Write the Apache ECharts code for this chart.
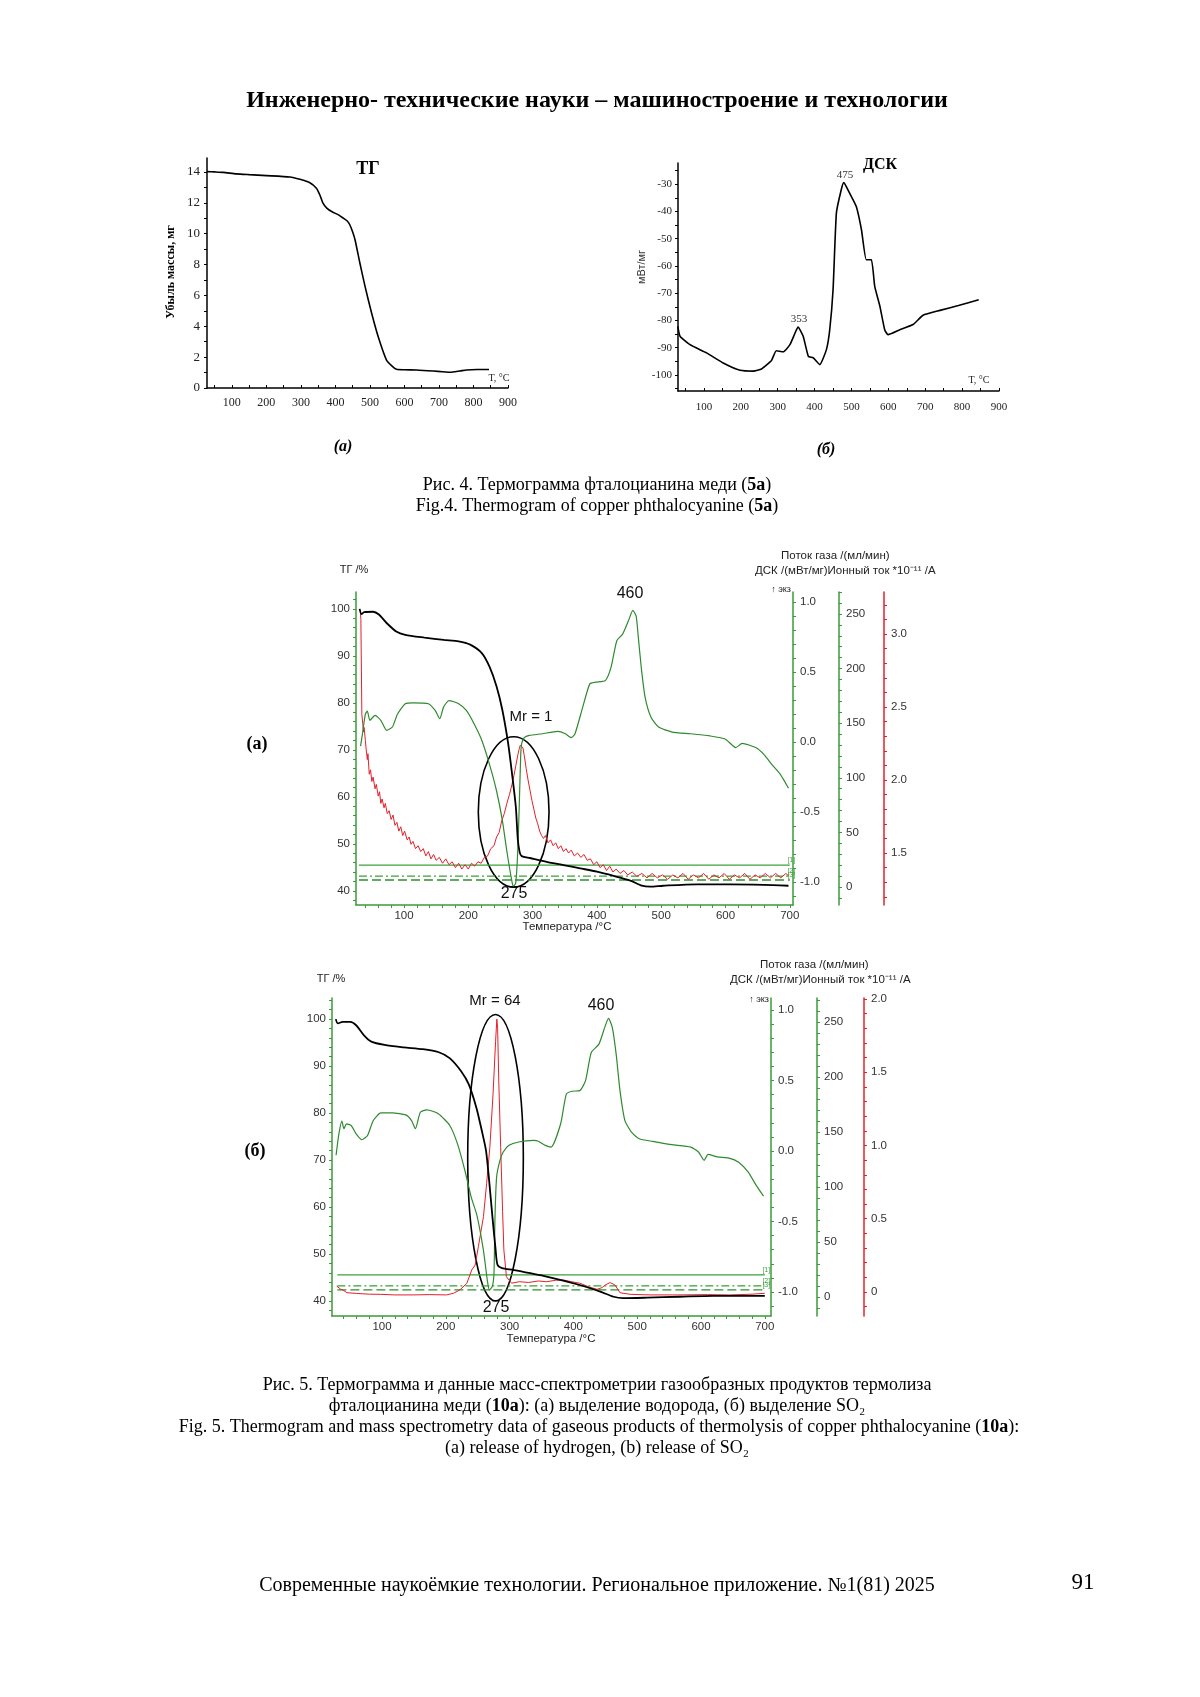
<!DOCTYPE html>
<html><head><meta charset="utf-8">
<script src="https://cdn.jsdelivr.net/npm/echarts@6/dist/echarts.min.js"></script>
<style>html,body{margin:0;padding:0;background:#fff}#c{width:1200px;height:1697px}</style>
</head><body><div id="c"></div>
<script>
// ---------- DATA ----------
// Fig.4 (a) TG: [T, mass loss mg]
const fig4TG = [[28,14.02],[50,14.0],[75,13.97],[113,13.87],[150,13.82],[200,13.76],[268,13.67],[297,13.52],[326,13.3],[345,12.94],[355,12.5],[364,11.97],[375,11.65],[389,11.43],[410,11.2],[423,11.0],[435,10.8],[442,10.56],[450,10.1],[457,9.59],[471,8.08],[486,6.57],[505,4.84],[524,3.32],[548,1.81],[565,1.4],[577,1.21],[600,1.18],[635,1.17],[684,1.1],[710,1.05],[732,1.02],[760,1.1],[780,1.17],[810,1.2],[845,1.2]];
// Fig.4 (б) DSC: [T, value]
const fig4DSC = [[29,-82.2],[35,-85.8],[62,-88.9],[107,-91.9],[152,-95.6],[198,-98.3],[234,-98.6],[256,-97.8],[283,-94.7],[296,-91.1],[315,-91.5],[333,-88.9],[347,-84.6],[355,-82.4],[369,-85.8],[383,-93.2],[396,-93.7],[414,-96.2],[432,-90.7],[441,-83.4],[450,-68.7],[459,-40.6],[472,-32.1],[479,-29.4],[495,-33.3],[513,-38.2],[527,-46.7],[540,-57.7],[554,-57.7],[563,-67.5],[577,-74.8],[590,-83.4],[599,-85.2],[631,-83.4],[667,-81.5],[694,-78.1],[740,-76.3],[790,-74.5],[845,-72.4]];

// Fig.5 (а)
const aTG = [[31,100.0],[34,98.9],[38,99.3],[52,99.4],[61,98.8],[73,97.0],[88,95.2],[102,94.5],[132,93.9],[162,93.4],[185,93.1],[203,92.4],[221,90.6],[233,87.7],[244,83.5],[253,78.5],[262,71.4],[268,65],[274,57.8],[277,51],[280,48.2],[283,47.4],[296,47.0],[322,46.2],[348,45.5],[374,44.8],[400,44.1],[426,43.2],[452,42.2],[470,41.1],[483,40.9],[503,41.1],[555,41.4],[607,41.4],[659,41.3],[698,41.1]];
const aDSC = [[32.5,-0.03],[35.5,0.06],[40,0.2],[43,0.22],[47,0.155],[55,0.19],[64,0.155],[73,0.083],[82,0.107],[90,0.2],[102,0.273],[114,0.28],[138,0.273],[148.5,0.225],[155.6,0.166],[161.6,0.249],[170,0.296],[185,0.273],[197,0.225],[209,0.13],[221,0.012],[233,-0.16],[244,-0.35],[253,-0.56],[260,-0.78],[267.5,-0.986],[270,-1.03],[273.7,-1.01],[276.8,-0.795],[279.4,-0.438],[281.5,-0.1],[283,-0.012],[287,0.031],[295,0.047],[315,0.059],[339,0.076],[351,0.059],[360,0.031],[366,0.059],[378,0.249],[389,0.415],[398,0.427],[413,0.438],[422,0.533],[431,0.723],[440,0.77],[449,0.865],[456,0.94],[461,0.9],[464,0.77],[469,0.533],[475,0.32],[484,0.178],[496,0.107],[517,0.071],[546,0.059],[576,0.043],[600,0.02],[616,-0.04],[626,-0.01],[647,-0.04],[660,-0.09],[672,-0.16],[685,-0.23],[698,-0.33]];
const aIon = [[32,3.16],[33,3.1],[34.5,2.45],[36,2.38],[37,2.33],[38,2.36],[40,2.27],[41,2.22],[43,2.14],[44,2.18],[46,2.04],[48,2.07],[50,1.99],[52,2.02],[55,1.94],[57,1.97],[60,1.89],[62,1.92],[64,1.84],[66,1.87],[69,1.81],[71,1.84],[74,1.77],[77,1.79],[80,1.73],[83,1.76],[86,1.69],[89,1.71],[92,1.65],[95,1.68],[98,1.62],[101,1.65],[105,1.59],[108,1.61],[111,1.56],[114,1.58],[118,1.53],[122,1.55],[126,1.51],[130,1.53],[134,1.48],[138,1.51],[142,1.46],[146,1.49],[150,1.45],[155,1.47],[160,1.43],[165,1.46],[170,1.42],[175,1.44],[180,1.4],[185,1.43],[190,1.39],[195,1.42],[200,1.39],[205,1.43],[210,1.41],[215,1.44],[220,1.43],[225,1.47],[230,1.48],[235,1.53],[240,1.55],[244,1.61],[248,1.64],[252,1.72],[256,1.77],[260,1.84],[264,1.9],[268,1.97],[271,2.03],[274,2.1],[277,2.17],[279,2.21],[281,2.24],[283,2.25],[285,2.22],[287,2.17],[290,2.08],[293,2.0],[296,1.93],[299,1.86],[302,1.8],[305,1.74],[308,1.7],[311,1.65],[314,1.62],[317,1.6],[320,1.62],[324,1.57],[328,1.59],[332,1.55],[336,1.57],[340,1.53],[344,1.55],[348,1.51],[352,1.53],[356,1.5],[360,1.52],[365,1.48],[370,1.5],[375,1.47],[380,1.49],[385,1.45],[390,1.46],[395,1.42],[400,1.44],[405,1.4],[410,1.42],[415,1.38],[420,1.41],[425,1.37],[430,1.39],[436,1.36],[442,1.38],[448,1.35],[455,1.37],[462,1.34],[470,1.36],[478,1.33],[486,1.36],[494,1.33],[502,1.35],[510,1.32],[518,1.35],[526,1.33],[534,1.36],[542,1.32],[550,1.35],[558,1.33],[566,1.36],[574,1.32],[582,1.35],[590,1.33],[598,1.36],[606,1.32],[614,1.35],[622,1.33],[630,1.36],[638,1.32],[646,1.35],[654,1.33],[662,1.36],[670,1.33],[678,1.36],[686,1.33],[694,1.36],[699,1.34]];

// Fig.5 (б)
const bTG = [[27.6,100],[30.6,99.1],[38.4,99.4],[50.4,99.4],[59.4,98.7],[71.4,96.6],[83.3,95.2],[104,94.5],[134,94.0],[164,93.6],[188,93.0],[206,91.7],[224,88.9],[236,86.1],[248,81.1],[256,76.5],[263,72],[268,65.5],[273,58],[278,51],[281,47.7],[288,47.0],[306,46.6],[358,45.2],[410,43.4],[442,42.0],[463,40.9],[478,40.6],[515,40.7],[567,40.9],[619,41.1],[700,41.1]];
const bDSC = [[28,-0.03],[32.4,0.122],[37.2,0.212],[40.2,0.158],[44.4,0.193],[51.6,0.181],[59.4,0.122],[68.4,0.08],[77.3,0.11],[86.3,0.216],[98.3,0.27],[116.3,0.27],[137.3,0.256],[146.3,0.216],[152.3,0.158],[160.1,0.275],[170.3,0.292],[188.2,0.264],[206.2,0.181],[218.2,0.052],[230,-0.14],[240,-0.33],[248.4,-0.45],[258.8,-0.70],[265,-0.915],[268.2,-0.986],[272.9,-0.96],[275.5,-0.867],[277.1,-0.466],[279.7,-0.18],[285,-0.064],[290,-0.007],[299,0.04],[314,0.064],[338,0.075],[344,0.071],[356,0.04],[365,0.028],[380,0.193],[389,0.405],[398,0.424],[410,0.428],[419,0.499],[428,0.699],[440,0.758],[449,0.875],[455,0.941],[461,0.875],[467,0.687],[473,0.428],[480.7,0.216],[491,0.134],[503,0.087],[524,0.068],[554,0.045],[584,0.028],[596,-0.007],[605,-0.066],[611,-0.024],[626,-0.042],[644,-0.05],[659,-0.08],[674,-0.15],[686,-0.24],[698,-0.32]];
const bIon = [[29,0.04],[35,0.02],[40,0.01],[45,-0.005],[60,-0.01],[80,-0.015],[97,-0.016],[120,-0.02],[149,-0.02],[175,-0.018],[201,-0.02],[212,-0.009],[222,0.014],[233,0.059],[240.6,0.15],[246,0.184],[251,0.309],[259,0.514],[264,0.742],[269,0.987],[274,1.348],[278,1.71],[280,1.863],[281.2,1.8],[283,1.44],[286,0.987],[289,0.55],[291,0.287],[295,0.104],[303,0.06],[315,0.07],[330,0.065],[345,0.075],[358,0.07],[372,0.08],[384,0.082],[397,0.07],[410,0.06],[424,0.035],[437,0.018],[445,0.03],[450,0.048],[457.5,0.064],[465,0.048],[473,-0.005],[489,-0.016],[520,-0.02],[567,-0.02],[610,-0.018],[645,-0.02],[680,-0.015],[700,-0.009]];

// gas-flow lines [1], [2], [3] (мл/мин)
const gasFlow = [20, 10, 6.4];
const gasT = [30, 700];

// annotation ellipses: [T centre, TG centre, T half-width, TG half-height]
const ellipseA = [270.6, 56.8, 55, 16];
const ellipseB = [277.9, 70.5, 43.6, 30.5];

// tick labels
const fig4aXTicks = [100,200,300,400,500,600,700,800,900];
const fig4aYTicks = [0,2,4,6,8,10,12,14];
const fig4bXTicks = [100,200,300,400,500,600,700,800,900];
const fig4bYTicks = [-100,-90,-80,-70,-60,-50,-40,-30];
const fig5XTicks = [100,200,300,400,500,600,700];
const fig5TGTicks = [40,50,60,70,80,90,100];
const fig5DSCTicks = [-1,-0.5,0,0.5,1];
const fig5GasTicks = [0,50,100,150,200,250];
const fig5aIonTicks = [1.5,2,2.5,3];
const fig5bIonTicks = [0,0.5,1,1.5,2];

// ---------- helpers ----------
function steps(a,b,s){const r=[];for(let v=a;v<=b+1e-9;v+=s)r.push(+v.toFixed(4));return r;}
const GREEN='#3b9b3b', CURVEGREEN='#2f8a2f', RED='#e4202a';
const SANS='"Liberation Sans", Arial, sans-serif', SERIF='"Liberation Serif", "Times New Roman", serif';

function vAxis(o){
  const base={type:'value',splitLine:{show:false},
    axisLine:{show:true,onZero:false,lineStyle:{color:o.color||'#000',width:1.5}},
    axisTick:{show:true,customValues:o.ticks,length:o.tl||3,inside:!!o.inside,lineStyle:{color:o.color||'#000'}},
    axisLabel:{customValues:o.labels,color:o.lc||'#333',fontSize:o.fs||11.5,fontFamily:o.ff||SANS,margin:o.margin||5,formatter:o.fmt},
    min:o.min,max:o.max,gridIndex:o.grid,position:o.position,offset:o.offset||0};
  if(!o.fmt) delete base.axisLabel.formatter;
  return base;
}

const xAxes=[
  vAxis({grid:0,min:28,max:900,ticks:steps(50,900,50),labels:fig4aXTicks,inside:true,ff:SERIF,fs:12,lc:'#222',margin:9,position:'bottom'}),
  vAxis({grid:1,min:29.5,max:900,ticks:steps(50,900,50),labels:fig4bXTicks,inside:true,ff:SERIF,fs:11,lc:'#222',margin:11,position:'bottom'}),
  vAxis({grid:2,min:25.4,max:705,ticks:steps(40,700,20),labels:fig5XTicks,color:GREEN,margin:5,position:'bottom'}),
  vAxis({grid:3,min:21.6,max:709.7,ticks:steps(40,700,20),labels:fig5XTicks,color:GREEN,margin:5,position:'bottom'})
];

const f1=v=>v.toFixed(1);
const yAxes=[
  vAxis({grid:0,min:0,max:14.9,ticks:steps(0,14,1),labels:fig4aYTicks,ff:SERIF,fs:13,lc:'#222',margin:7,position:'left'}),
  vAxis({grid:1,min:-105.9,max:-22.2,ticks:steps(-105,-25,5),labels:fig4bYTicks,ff:SERIF,fs:11,lc:'#222',margin:6,position:'left'}),
  // fig5 (а)
  vAxis({grid:2,min:37.0,max:103.6,ticks:steps(38,102,2),labels:fig5TGTicks,color:GREEN,margin:6,position:'left'}),
  vAxis({grid:2,min:-1.164,max:1.071,ticks:steps(-1.1,1.0,0.1),labels:fig5DSCTicks,color:GREEN,fmt:f1,margin:7,position:'right'}),
  vAxis({grid:2,min:-16.5,max:270.1,ticks:steps(-10,270,10),labels:fig5GasTicks,color:GREEN,margin:7,position:'right',offset:46}),
  vAxis({grid:2,min:1.144,max:3.288,ticks:steps(1.2,3.2,0.1),labels:fig5aIonTicks,color:RED,fmt:f1,margin:7,position:'right',offset:91}),
  // fig5 (б)
  vAxis({grid:3,min:36.8,max:104.5,ticks:steps(38,104,2),labels:fig5TGTicks,color:GREEN,margin:6,position:'left'}),
  vAxis({grid:3,min:-1.170,max:1.085,ticks:steps(-1.1,1.0,0.1),labels:fig5DSCTicks,color:GREEN,fmt:f1,margin:7,position:'right'}),
  vAxis({grid:3,min:-17.3,max:271.8,ticks:steps(-10,270,10),labels:fig5GasTicks,color:GREEN,margin:7,position:'right',offset:46}),
  vAxis({grid:3,min:-0.164,max:2.007,ticks:steps(-0.1,2.0,0.1),labels:fig5bIonTicks,color:RED,fmt:v=>v===0?'0':v.toFixed(1),margin:7,position:'right',offset:93})
];

function line(x,y,data,color,w,extra){
  return Object.assign({type:'line',xAxisIndex:x,yAxisIndex:y,data,showSymbol:false,symbol:'none',
    lineStyle:{color,width:w},itemStyle:{color},animation:false,silent:true,clip:false},extra||{});
}
const gasStyles=[{type:'solid',color:'#3aa03a'},{type:[8,3,2,3],color:'#3aa03a'},{type:[9,4],color:'#2f8f2f'}];
const gasLabels=['[1]','[2]','[3]'];
function gasSeries(x,y){
  return gasFlow.map((g,i)=>line(x,y,gasT.map(t=>[t,g]),gasStyles[i].color,1.3,{
    lineStyle:{color:gasStyles[i].color,width:1.3,type:gasStyles[i].type},
    endLabel:{show:true,formatter:gasLabels[i],fontSize:6.5,color:'#3aa03a',offset:[-10,-5]}}));
}
function ellipseSeries(x,y,e){
  return {type:'custom',xAxisIndex:x,yAxisIndex:y,data:[e],clip:false,silent:true,animation:false,
    encode:{x:0,y:1},
    renderItem:(p,api)=>{const c=api.coord([api.value(0),api.value(1)]);const s=api.size([api.value(2),api.value(3)]);
      return {type:'ellipse',shape:{cx:c[0],cy:c[1],rx:s[0],ry:s[1]},style:{fill:'none',stroke:'#000',lineWidth:1.6}};}};
}

const series=[
  line(0,0,fig4TG,'#000',1.6,{smooth:0.2}),
  line(1,1,fig4DSC,'#000',1.6,{smooth:0.15}),
  ...gasSeries(2,4),
  line(2,5,aIon,RED,1,{}),
  line(2,3,aDSC,CURVEGREEN,1.2,{smooth:0.2}),
  line(2,2,aTG,'#000',1.8,{smooth:0.25}),
  ellipseSeries(2,2,ellipseA),
  ...gasSeries(3,8),
  line(3,9,bIon,RED,1,{}),
  line(3,7,bDSC,CURVEGREEN,1.2,{smooth:0.2}),
  line(3,6,bTG,'#000',1.8,{smooth:0.25}),
  ellipseSeries(3,6,ellipseB)
];

function T(x,y,text,o){
  o=o||{};
  return {type:'text',x,y,rotation:o.rot||0,silent:true,style:{text,
    fontSize:o.fs||12,fontFamily:o.ff||SANS,fontWeight:o.fw||'normal',fontStyle:o.it?'italic':'normal',
    fill:o.c||'#000',align:o.al||'center',textAlign:o.al||'center',verticalAlign:'middle',textVerticalAlign:'middle',rich:o.rich}};
}
const richB={b:{fontWeight:'bold',fontSize:18,fontFamily:SERIF}};
const graphics=[
  T(597,101,'Инженерно- технические науки – машиностроение и технологии',{fs:24,ff:SERIF,fw:'bold'}),
  // Fig 4 (a)
  T(368,169,'ТГ',{fs:18,ff:SERIF,fw:'bold'}),
  T(171,272,'Убыль массы, мг',{fs:12,ff:SERIF,fw:'bold',rot:Math.PI/2}),
  T(499,378,'T, °C',{fs:10,ff:SERIF,c:'#222'}),
  // Fig 4 (б)
  T(880,165,'ДСК',{fs:16,ff:SERIF,fw:'bold'}),
  T(845,175,'475',{fs:11,ff:SERIF,c:'#333'}),
  T(799,319,'353',{fs:11,ff:SERIF,c:'#333'}),
  T(642,267,'мВт/мг',{fs:11,ff:SANS,c:'#333',rot:Math.PI/2}),
  T(979,380,'T, °C',{fs:10,ff:SERIF,c:'#222'}),
  T(343,447,'(а)',{fs:16,ff:SERIF,fw:'bold',it:true}),
  T(826,450,'(б)',{fs:16,ff:SERIF,fw:'bold',it:true}),
  T(597,485,'Рис. 4. Термограмма фталоцианина меди ({b|5а})',{fs:18,ff:SERIF,rich:richB}),
  T(597,506,'Fig.4. Thermogram of copper phthalocyanine ({b|5a})',{fs:18,ff:SERIF,rich:richB}),
  // Fig 5 (а)
  T(257,744,'(а)',{fs:18,ff:SERIF,fw:'bold'}),
  T(354,570,'ТГ /%',{fs:11,c:'#222'}),
  T(781,556,'Поток газа /(мл/мин)',{fs:11.5,al:'left',c:'#222'}),
  T(755,571,'ДСК /(мВт/мг)Ионный ток *10⁻¹¹ /А',{fs:11.5,al:'left',c:'#222'}),
  T(791,590,'↑ экз',{fs:9,al:'right',c:'#222'}),
  T(630,594,'460',{fs:16,c:'#111'}),
  T(531,717,'Mr = 1',{fs:15,c:'#111'}),
  T(514,894,'275',{fs:16,c:'#111'}),
  T(567,927,'Температура /°C',{fs:11.5,c:'#222'}),
  // Fig 5 (б)
  T(255,1151,'(б)',{fs:18,ff:SERIF,fw:'bold'}),
  T(331,979,'ТГ /%',{fs:11,c:'#222'}),
  T(760,965,'Поток газа /(мл/мин)',{fs:11.5,al:'left',c:'#222'}),
  T(730,980,'ДСК /(мВт/мг)Ионный ток *10⁻¹¹ /А',{fs:11.5,al:'left',c:'#222'}),
  T(769,1000,'↑ экз',{fs:9,al:'right',c:'#222'}),
  T(601,1006,'460',{fs:16,c:'#111'}),
  T(495,1001,'Mr = 64',{fs:15,c:'#111'}),
  T(496,1308,'275',{fs:16,c:'#111'}),
  T(551,1339,'Температура /°C',{fs:11.5,c:'#222'}),
  // captions
  T(597,1385,'Рис. 5. Термограмма и данные масс-спектрометрии газообразных продуктов термолиза',{fs:18,ff:SERIF}),
  T(597,1406,'фталоцианина меди ({b|10а}): (а) выделение водорода, (б) выделение SO₂',{fs:18,ff:SERIF,rich:richB}),
  T(599,1427,'Fig. 5. Thermogram and mass spectrometry data of gaseous products of thermolysis of copper phthalocyanine ({b|10a}):',{fs:18,ff:SERIF,rich:richB}),
  T(597,1448,'(a) release of hydrogen, (b) release of SO₂',{fs:18,ff:SERIF}),
  T(597,1586,'Современные наукоёмкие технологии. Региональное приложение. №1(81) 2025',{fs:20,ff:SERIF}),
  T(1083,1583,'91',{fs:23,ff:SERIF})
];

const option={
  animation:false,
  backgroundColor:'#fff',
  grid:[
    {left:207,top:158,width:301,height:230,containLabel:false,outerBoundsMode:'none'},
    {left:678,top:163,width:321,height:228,containLabel:false,outerBoundsMode:'none'},
    {left:356,top:592,width:437,height:313,containLabel:false,outerBoundsMode:'none'},
    {left:332,top:998,width:439,height:318,containLabel:false,outerBoundsMode:'none'}
  ],
  xAxis:xAxes,
  yAxis:yAxes,
  series,
  graphic:graphics
};
const chart=echarts.init(document.getElementById('c'),null,{renderer:'canvas'});
chart.setOption(option);
</script></body></html>
